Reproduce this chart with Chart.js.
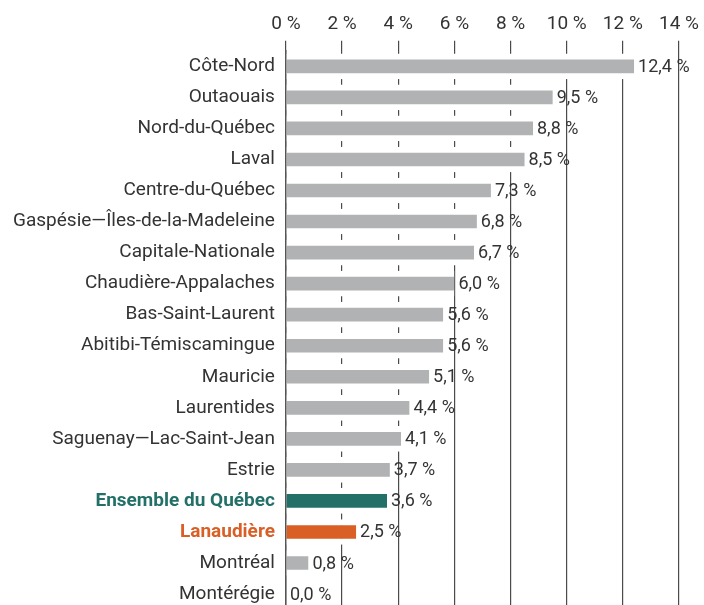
<!DOCTYPE html>
<html lang="fr">
<head>
<meta charset="utf-8">
<title>Taux par région</title>
<script src="https://cdn.jsdelivr.net/npm/chart.js@4"></script>
<style>
  html, body { margin:0; padding:0; background:#fff; overflow:hidden; }
  #wrap { position:relative; width:704px; height:632px; }
</style>
</head>
<body>
<div id="wrap"><canvas id="chart"></canvas></div>
<script>
// Données — lecture du graphique
const regions = [
  'Côte-Nord', 'Outaouais', 'Nord-du-Québec', 'Laval', 'Centre-du-Québec',
  'Gaspésie—Îles-de-la-Madeleine', 'Capitale-Nationale', 'Chaudière-Appalaches',
  'Bas-Saint-Laurent', 'Abitibi-Témiscamingue', 'Mauricie', 'Laurentides',
  'Saguenay—Lac-Saint-Jean', 'Estrie', 'Ensemble du Québec', 'Lanaudière',
  'Montréal', 'Montérégie'
];
const values = [12.4, 9.5, 8.8, 8.5, 7.3, 6.8, 6.7, 6.0, 5.6, 5.6, 5.1, 4.4, 4.1, 3.7, 3.6, 2.5, 0.8, 0.0];
const xTicks = [0, 2, 4, 6, 8, 10, 12, 14];

const GREY = '#b1b2b4', TEAL = '#237069', ORANGE = '#d95f26', TEXT = '#333333';
const highlight = { 'Ensemble du Québec': TEAL, 'Lanaudière': ORANGE };

const fmt = v => v.toFixed(1).replace('.', ',') + ' %';
const FONT = 'Roboto, "Noto Sans", sans-serif';

// Étiquettes de valeur au bout des barres
const valueLabels = {
  id: 'valueLabels',
  afterDatasetsDraw(chart) {
    const { ctx } = chart;
    const meta = chart.getDatasetMeta(0);
    ctx.save();
    ctx.font = '18px ' + FONT;
    ctx.fillStyle = TEXT;
    ctx.textAlign = 'left';
    ctx.textBaseline = 'middle';
    meta.data.forEach((bar, i) => {
      ctx.fillText(fmt(values[i]), bar.x + 4, bar.y + 1);
    });
    ctx.restore();
  }
};

new Chart(document.getElementById('chart'), {
  type: 'bar',
  data: {
    labels: regions,
    datasets: [{
      data: values,
      backgroundColor: regions.map(r => highlight[r] || GREY),
      borderColor: '#ffffff',
      borderWidth: { top: 6, bottom: 6, left: 0, right: 0 },
      borderSkipped: false,
      barThickness: 25
    }]
  },
  options: {
    indexAxis: 'y',
    responsive: true,
    maintainAspectRatio: false,
    animation: false,
    layout: { padding: { left: 2, right: 22, top: 8, bottom: 0 } },
    plugins: { legend: { display: false }, tooltip: { enabled: false } },
    scales: {
      x: {
        position: 'top',
        min: 0, max: 14,
        afterBuildTicks: ax => { ax.ticks = xTicks.map(v => ({ value: v })); },
        grid: { color: '#4a4a4a', lineWidth: 1.2, tickLength: 10, drawTicks: true },
        border: { display: false },
        ticks: {
          color: TEXT, padding: 5,
          font: { family: FONT, size: 19 },
          callback: v => v + ' %'
        }
      },
      y: {
        grid: { display: false, drawTicks: false },
        border: { display: true, color: '#555555', width: 1.5 },
        ticks: {
          padding: 11,
          autoSkip: false,
          color: ctx => highlight[regions[ctx.index]] || TEXT,
          font: ctx => ({
            family: FONT, size: 19,
            weight: highlight[regions[ctx.index]] ? 'bold' : 'normal'
          })
        }
      }
    }
  },
  plugins: [valueLabels]
});
</script>
</body>
</html>
